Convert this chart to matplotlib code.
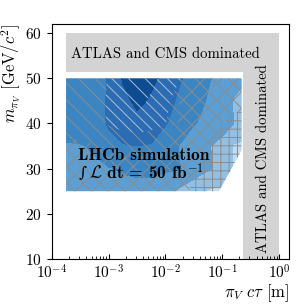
import numpy as np
import matplotlib
matplotlib.use("Agg")
import matplotlib.pyplot as plt
from matplotlib.patches import Polygon, PathPatch

plt.rcParams["font.family"] = "serif"
plt.rcParams["font.serif"] = ["cmr10", "DejaVu Serif"]
plt.rcParams["mathtext.fontset"] = "cm"
plt.rcParams["axes.formatter.use_mathtext"] = True
plt.rcParams["axes.unicode_minus"] = False
plt.rcParams["hatch.linewidth"] = 0.7
plt.rcParams["hatch.color"] = "#8c8c8c"

# grid of the simulated scan (log10 of lifetime in m, mass in GeV)
log_ctau = [-3.75, -3.5, -3.25, -3.0, -2.75, -2.5, -2.25, -2.0, -1.75, -1.5, -1.25, -1.0, -0.8, -0.66]
mass = [25, 30, 35, 40, 45, 50]

# sensitivity class (colour), rows follow mass
sens = [
    [2.2, 2.2, 2.2, 2.2, 2.2, 2.2, 2.2, 1.7, 1.3, 0.8, 0.4, 0.3, 0.3, 0.3],
    [2.3, 2.3, 2.35, 2.45, 2.6, 2.7, 2.7, 2.65, 2.52, 2.1, 1.6, 1.2, 0.4, 0.3],
    [2.4, 2.45, 2.6, 3.2, 3.45, 3.5, 3.45, 2.9, 2.45, 2.0, 1.55, 1.2, 0.4, 0.3],
    [3.0, 3.0, 3.2, 3.6, 3.9, 4.1, 3.9, 3.55, 3.1, 2.55, 2.2, 1.9, 1.5, 1.3],
    [3.0, 3.0, 3.2, 3.6, 4.2, 4.8, 4.3, 3.8, 3.3, 2.9, 2.4, 1.8, 1.45, 1.2],
    [3.0, 3.0, 3.0, 3.6, 4.6, 5.0, 4.8, 4.0, 3.6, 3.0, 2.6, 2.0, 1.8, 1.7],
]

# second quantity shown with hatches
hatch_val = [
    [1.0, 1.0, 1.0, 1.0, 1.0, 1.0, 1.0, 1.0, 0.8, 0.3, 0.1, 0.1, 0.1, 0.1],
    [1.0, 1.0, 1.0, 1.0, 1.0, 1.0, 1.0, 1.0, 0.9, 0.55, 0.2, 0.1, 0.1, 0.1],
    [1.35, 1.35, 1.4, 1.6, 1.7, 1.7, 1.6, 1.3, 1.1, 1.0, 0.55, 0.2, 0.1, 0.1],
    [2.0, 2.0, 2.2, 2.6, 2.9, 3.1, 2.9, 2.55, 1.2, 1.1, 1.0, 0.5, 0.2, 0.1],
    [2.0, 2.0, 2.2, 2.6, 3.2, 3.8, 3.3, 2.85, 1.5, 1.1, 1.0, 1.0, 0.9, 0.8],
    [2.0, 2.0, 2.0, 2.6, 3.6, 4.0, 3.8, 3.0, 2.6, 1.2, 1.0, 1.0, 1.0, 1.0],
]
hatch_levels = [-0.5, 0.5, 1.5, 2.5, 3.5, 4.5]
hatch_styles = ["++", "xx", "\\" * 2, "\\" * 3, "\\" * 2]
hatch_colors = ["#8c8c8c", "#8c8c8c", "#8c8c8c", "#b4bccc", "#b4bccc"]

# outline of the simulated region (corner cut at low mass, long lifetime)
region_x = [10**-3.75, 10**-0.66, 10**-0.66, 10**-1.06, 10**-3.75]
region_y = [50, 50, 34.1, 25, 25]

# ATLAS/CMS dominated band
band_x = [1.8e-4, 1.8e-4, 1.0, 1.0, 0.23, 0.23]
band_y = [51.5, 60, 60, 10, 10, 51.5]

blues = ["#c4daef", "#93c0e2", "#5b9fd4", "#3b85c2", "#2a6db4", "#0b4c92"]

fig = plt.figure(figsize=(3.05, 3.05), dpi=100)
ax = fig.add_axes([0.170, 0.151, 0.778, 0.770])

ax.fill(band_x, band_y, color="#d3d3d3", lw=0)

X, Y = np.meshgrid(np.power(10.0, log_ctau), mass)
clip = Polygon(np.column_stack([region_x, region_y]), transform=ax.transData,
               facecolor="none", edgecolor="none")
ax.add_patch(clip)

cs = ax.contourf(X, Y, np.array(sens), levels=[-0.5, 0.5, 1.5, 2.5, 3.5, 4.5, 5.5],
                 colors=blues)
cs.set_clip_path(clip)

# hatched overlay: take the filled contour paths and redraw them as patches
hs = ax.contourf(X, Y, np.array(hatch_val), levels=hatch_levels, colors="none")
for path, style, col in zip(hs.get_paths(), hatch_styles, hatch_colors):
    if len(path.vertices) == 0:
        continue
    p = PathPatch(path, facecolor="none", edgecolor=col, hatch=style, lw=0)
    ax.add_patch(p)
    p.set_clip_path(clip)
hs.remove()

ax.text(1e-2, 55.3, "ATLAS and CMS dominated", ha="center", va="center", fontsize=10.6)
ax.text(0.52, 32.2, "ATLAS and CMS dominated", ha="center", va="center",
        rotation=90, fontsize=10.6)
ax.text(2.9e-4, 33.0, "LHCb simulation", ha="left", va="center", fontsize=12.5,
        family="cmb10")
ax.text(2.9e-4, 29.3, "∫", ha="left", va="center", fontsize=11,
        family="DejaVu Serif")
ax.annotate(r"$\mathcal{L}$ dt = 50 fb$^{\mathbf{-1}}$", xy=(2.9e-4, 29.3),
            xytext=(8, 0), textcoords="offset points", ha="left", va="center",
            fontsize=12.5, family="cmb10")

ax.set_xscale("log")
ax.set_xlim(1e-4, 1.5)
ax.set_ylim(10, 62)
ax.set_xticks([1e-4, 1e-3, 1e-2, 1e-1, 1e0])
ax.set_yticks([10, 20, 30, 40, 50, 60])
ax.tick_params(labelsize=11)
ax.tick_params(axis="x", which="both", direction="in")
ax.set_xlabel(r"$\pi_V\ c\tau$ [m]", loc="right", fontsize=12, labelpad=0)
ax.set_ylabel(r"$m_{\pi_V}$ [GeV/$c^2$]", loc="top", fontsize=12, labelpad=2)

fig.savefig("out.png", dpi=100)
